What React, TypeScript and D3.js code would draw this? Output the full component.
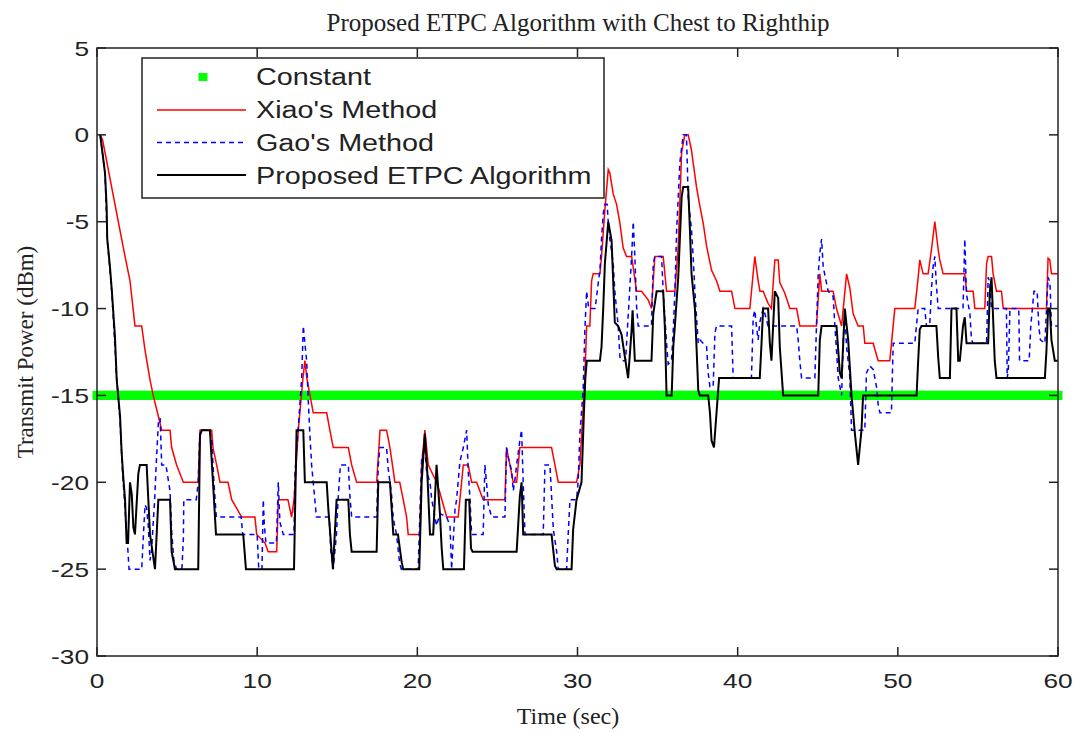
import React from 'react'
import * as d3 from 'd3'

// values, [time (sec), power (dBm)]
const constantLevel = -15
const constantTimes = d3.range(0, 60.001, 0.1)

const xiaoMethod: [number, number][] = [
  [0.2, 0], [0.35, -0.3], [1.54, -6], [1.75, -7], [2.06, -8.4], [2.37, -11], [2.79, -11], [3.0, -12.4],
  [3.31, -14.1], [3.51, -15], [3.83, -16.2], [4.04, -17], [4.56, -17], [4.66, -18], [4.97, -19], [5.39, -20],
  [6.32, -20], [6.43, -17], [7.16, -17], [7.24, -18], [7.47, -19], [7.68, -20], [8.18, -20], [8.41, -21],
  [9.03, -22], [9.86, -22], [9.97, -23], [10.49, -23.5], [10.69, -24], [11.22, -24], [11.32, -21], [11.92, -21],
  [12.15, -22], [12.3, -21], [12.57, -17], [12.86, -14], [12.98, -13], [13.1, -14], [13.3, -15], [13.5, -16],
  [14.34, -16], [14.54, -17], [14.75, -18], [15.69, -18], [15.9, -19], [16.21, -20], [17.46, -20], [17.67, -17],
  [18.08, -17], [18.29, -18], [18.6, -20], [18.9, -20], [19.12, -21], [19.33, -22], [19.43, -23], [20.16, -23],
  [20.27, -19], [20.47, -17], [20.68, -19], [21.2, -20], [21.41, -20.6], [21.83, -22], [22.55, -22], [22.87, -19],
  [23.18, -19], [23.39, -20], [23.7, -20], [24.11, -21], [25.47, -21], [25.57, -18], [25.78, -19], [25.99, -20],
  [26.2, -20], [26.4, -18], [28.38, -18], [28.59, -19], [28.8, -20], [29.94, -20], [30.15, -19], [30.36, -15.6],
  [30.46, -14], [30.57, -11], [30.77, -11], [30.88, -8.4], [30.98, -8], [31.4, -8], [31.5, -7], [31.71, -4.3],
  [31.92, -2], [32.02, -2.2], [32.23, -3.4], [32.44, -4], [32.65, -5.1], [32.85, -6.5], [33.06, -7], [33.38, -7],
  [33.69, -9], [34.0, -9], [34.41, -9.5], [34.62, -10], [34.83, -7], [35.35, -7], [35.56, -9], [36.08, -9],
  [36.29, -6.4], [36.5, -1], [36.7, 0], [36.91, 0], [37.12, -0.9], [37.22, -1.6], [37.43, -3], [37.64, -4.1],
  [37.85, -5.1], [38.06, -6.4], [38.37, -7.8], [38.68, -8.4], [38.89, -9], [39.62, -9], [39.83, -10], [40.76, -10],
  [41.07, -7], [41.28, -8.4], [41.39, -9], [41.59, -9], [41.9, -9.7], [42.11, -10], [42.32, -7.2], [42.53, -7.2],
  [42.63, -8.5], [42.94, -9.1], [43.26, -10], [43.68, -10], [43.88, -11], [44.92, -11], [45.13, -8], [45.24, -9],
  [45.96, -9], [46.17, -10], [46.49, -11], [46.8, -8], [47.0, -8.8], [47.21, -10.3], [47.52, -11], [47.84, -11],
  [47.94, -12], [48.46, -12], [48.77, -13], [49.5, -13], [49.81, -10], [51.06, -10], [51.27, -8.2], [51.37, -7.2],
  [51.58, -8], [51.89, -8], [52.1, -6.6], [52.31, -5], [52.52, -6.6], [52.62, -7.2], [52.83, -8], [54.18, -8],
  [54.29, -9], [54.7, -9], [54.81, -10], [55.43, -10], [55.54, -7.4], [55.64, -7], [55.85, -7], [55.95, -8],
  [56.16, -9], [56.47, -9], [56.58, -10], [59.28, -10], [59.38, -7.1], [59.49, -7.2], [59.59, -8], [60, -8],
]

const gaoMethod: [number, number][] = [
  [0.2, 0], [0.5, -2.2], [0.64, -6], [0.92, -9], [1.23, -14], [1.44, -16.5], [1.6, -19.5], [1.75, -21.5],
  [1.9, -23.5], [2.0, -25], [2.79, -25], [2.9, -23], [3.0, -21.3], [3.1, -21.5], [3.2, -22.5], [3.31, -24.5],
  [3.4, -24], [3.6, -21], [3.7, -18.9], [3.83, -16.6], [3.94, -16.3], [4.04, -19], [4.3, -19], [4.56, -20.5],
  [4.66, -22.8], [4.8, -24.5], [4.97, -25], [5.3, -25], [5.39, -23.3], [5.42, -21], [6.2, -21], [6.32, -20],
  [6.43, -17], [7.0, -17], [7.16, -17.5], [7.3, -20], [7.45, -22], [9.0, -22], [9.1, -23], [10.0, -23],
  [10.1, -25], [10.3, -25], [10.38, -21], [10.45, -22.5], [10.55, -23.5], [11.2, -23.5], [11.32, -20], [11.42, -22.3],
  [11.63, -23], [12.3, -23], [12.36, -19.5], [12.57, -16.8], [12.78, -14], [12.88, -11], [12.98, -12], [13.09, -13],
  [13.19, -15.3], [13.3, -17.4], [13.4, -19], [13.5, -20], [13.7, -22], [14.5, -22], [14.6, -24], [14.75, -25],
  [14.95, -23], [15.05, -21], [15.2, -19], [15.69, -19], [15.79, -20.8], [15.9, -22], [17.46, -22], [17.56, -19],
  [17.67, -18], [18.08, -18], [18.18, -19.2], [18.39, -20.7], [18.5, -22.1], [18.7, -23], [18.9, -24.7], [19.0, -25],
  [20.05, -25], [20.27, -18.6], [20.47, -18], [20.58, -19.4], [20.79, -20], [20.9, -21], [21.1, -22], [21.2, -22.5],
  [21.41, -21.8], [21.83, -22], [22.04, -22.5], [22.14, -25], [22.35, -21.6], [22.45, -21], [22.66, -18.8], [22.87, -18],
  [23.08, -17], [23.18, -19.4], [23.29, -21], [23.39, -23], [24.11, -23], [24.22, -19], [24.32, -20], [24.43, -21.3],
  [24.64, -22], [25.47, -22], [25.57, -18], [25.68, -18.6], [25.88, -19.3], [25.99, -20.5], [26.1, -19.8], [26.2, -19],
  [26.4, -17.6], [26.51, -17], [26.61, -20], [26.72, -23], [27.86, -23], [27.97, -19], [28.28, -19], [28.49, -22.7],
  [28.7, -24], [28.8, -25], [29.32, -25], [29.42, -23], [29.53, -21], [29.94, -21], [30.04, -20], [30.15, -17.2],
  [30.25, -16], [30.36, -14.5], [30.46, -11.2], [30.57, -9], [30.7, -10], [31.1, -10], [31.3, -8.5], [31.4, -7.8],
  [31.5, -6], [31.61, -4.5], [31.71, -4], [31.85, -4], [31.92, -5], [32.02, -6], [32.23, -7.4], [32.33, -9],
  [32.54, -11], [32.65, -12.8], [32.75, -13], [33.0, -13], [33.16, -10.5], [33.38, -7], [33.48, -5], [33.58, -7],
  [33.69, -9.9], [33.79, -11], [34.62, -11], [34.73, -7.4], [34.83, -7], [35.25, -7], [35.35, -9], [35.56, -12],
  [35.66, -13.2], [35.87, -13], [35.98, -11.2], [36.08, -9], [36.19, -5.5], [36.29, -3.6], [36.39, -1.6], [36.6, 0],
  [36.8, 0], [36.85, -1.5], [36.91, -3.6], [37.12, -5.5], [37.22, -7], [37.33, -9], [37.43, -10.5], [37.54, -12],
  [37.64, -11.8], [38.06, -12.2], [38.16, -13.7], [38.27, -14.5], [38.47, -14.5], [38.58, -11.4], [38.68, -11], [39.62, -11],
  [39.72, -14], [40.86, -14], [40.97, -10.5], [41.07, -10.1], [41.17, -11], [41.28, -11.8], [41.38, -10.8], [41.59, -10],
  [41.7, -10.3], [41.9, -11], [43.68, -11], [43.78, -11.8], [43.88, -13], [43.99, -14], [44.82, -14], [44.92, -11],
  [45.03, -8], [45.13, -6.8], [45.24, -6], [45.34, -7.6], [45.65, -9], [45.96, -9.3], [46.07, -11], [46.17, -12.4],
  [46.28, -14], [46.49, -15], [46.59, -11.8], [46.69, -10.3], [46.8, -12.2], [47.0, -13.9], [47.11, -17], [47.94, -17],
  [48.04, -13.7], [48.25, -13.3], [48.46, -13.5], [48.67, -14.5], [48.77, -15.5], [48.88, -16], [49.6, -16], [49.71, -12],
  [51.06, -12], [51.17, -10.9], [51.27, -10], [51.68, -10], [51.79, -11], [51.99, -11], [52.1, -8.9], [52.2, -7.6],
  [52.31, -7], [52.41, -8.7], [52.52, -10], [54.07, -10], [54.18, -6], [54.29, -9.2], [54.5, -10.3], [54.6, -11.8],
  [54.7, -12], [55.54, -12], [55.64, -8.2], [55.74, -8.5], [55.85, -10], [56.78, -10], [56.83, -14], [56.9, -13.5],
  [57.0, -10], [57.55, -10], [57.6, -13], [58.2, -13], [58.3, -11], [58.5, -9], [58.7, -9], [58.8, -11],
  [58.9, -11.8], [59.18, -12], [59.38, -8.2], [59.5, -8.5], [59.59, -11], [60, -11],
]

const proposedEtpc: [number, number][] = [
  [0.2, 0], [0.5, -2.2], [0.6, -4.1], [0.64, -6], [0.81, -7.6], [0.92, -8.9], [1.12, -11.6], [1.23, -14.1],
  [1.44, -16.2], [1.54, -18.3], [1.64, -19.7], [1.75, -21], [1.85, -23.5], [1.94, -23.5], [2.06, -20], [2.17, -20.7],
  [2.27, -22.6], [2.37, -23], [2.58, -19.5], [2.68, -19], [3.1, -19], [3.31, -23], [3.51, -24.3], [3.62, -25],
  [3.83, -21], [4.56, -21], [4.66, -24], [4.87, -25], [6.32, -25], [6.43, -17.3], [6.54, -17], [7.05, -17],
  [7.26, -20.3], [7.43, -23], [9.13, -23], [9.3, -25], [12.3, -25], [12.46, -17], [12.88, -17], [12.98, -20],
  [14.34, -20], [14.44, -21.5], [14.73, -25], [14.96, -21], [15.69, -21], [15.79, -23], [15.9, -24], [17.46, -24],
  [17.56, -20], [18.29, -20], [18.39, -21.4], [18.5, -23], [18.79, -23], [19.02, -24.6], [19.12, -25], [20.12, -25],
  [20.27, -20], [20.47, -17.2], [20.62, -19.4], [20.79, -23], [20.99, -23], [21.2, -19], [21.41, -21.8], [21.52, -23.8],
  [21.62, -25], [22.91, -25], [23.03, -21], [23.24, -21], [23.35, -23.8], [23.45, -24], [26.2, -24], [26.3, -22.4],
  [26.4, -20.8], [26.51, -20], [26.61, -23], [28.38, -23], [28.59, -24.8], [28.7, -25], [29.63, -25], [29.73, -22.7],
  [29.94, -21], [30.25, -20], [30.4, -16], [30.49, -14], [30.58, -13], [31.4, -13], [31.5, -12.2], [31.61, -9.9],
  [31.71, -7.4], [31.92, -5], [32.13, -6.1], [32.33, -10.8], [32.54, -11], [32.75, -11.5], [32.96, -12.8], [33.16, -14],
  [33.38, -11.2], [33.44, -10.1], [33.58, -13], [34.62, -13], [34.73, -10.3], [34.94, -9], [35.35, -9], [35.46, -11.2],
  [35.56, -15], [35.88, -15], [35.98, -12.2], [36.08, -11], [36.29, -8.2], [36.5, -3.6], [36.6, -3], [36.91, -3],
  [37.02, -5.5], [37.12, -8], [37.33, -10], [37.43, -12.2], [37.54, -14.7], [37.64, -15], [38.16, -15], [38.27, -16],
  [38.37, -17.6], [38.52, -18], [38.68, -16], [38.84, -14], [41.38, -14], [41.49, -12], [41.59, -10], [41.9, -10],
  [42.01, -12], [42.11, -13], [42.32, -9], [42.53, -9.4], [42.63, -12.2], [42.84, -15], [45.03, -15], [45.13, -11.8],
  [45.24, -11], [46.17, -11], [46.38, -13.7], [46.49, -14], [46.69, -10], [46.9, -11.8], [47.11, -15], [47.32, -17.2],
  [47.52, -19], [47.73, -17], [47.83, -15], [51.17, -15], [51.27, -13], [51.37, -11.2], [51.48, -11], [52.41, -11],
  [52.52, -12.8], [52.62, -14], [53.25, -14], [53.35, -10], [53.66, -10], [53.77, -13], [53.87, -13], [54.07, -11],
  [54.18, -10.5], [54.29, -12], [55.64, -12], [55.74, -9.1], [55.85, -8.2], [56.05, -13], [56.16, -14], [59.18, -14],
  [59.28, -12.4], [59.38, -10], [59.49, -10], [59.59, -11.8], [59.8, -13], [60, -13],
]

const xTicks = [0, 10, 20, 30, 40, 50, 60]
const yTicks = [5, 0, -5, -10, -15, -20, -25, -30]
const legendLabels = ['Constant', "Xiao's Method", "Gao's Method", 'Proposed ETPC Algorithm']

const W = 1074
const H = 733
const left = 97
const right = 1058
const top = 48
const bottom = 656
const tickLen = 9
const sans = "Arial, 'Liberation Sans', sans-serif"
const serif = "'Times New Roman', 'Liberation Serif', serif"

export default function App() {
  const x = d3.scaleLinear().domain([0, 60]).range([left, right])
  const y = d3.scaleLinear().domain([-30, 5]).range([bottom, top])

  const line = d3.line<[number, number]>()
    .x(d => x(d[0]))
    .y(d => y(d[1]))

  const sq = 9

  return (
    <svg width={W} height={H} style={{ position: 'absolute', left: 0, top: 0, background: '#fff' }}>
      <rect x={0} y={0} width={W} height={H} fill="#fff" />

      {/* title */}
      <text x={578} y={31} textAnchor="middle" fontFamily={serif} fontSize={25} fill="#222">
        Proposed ETPC Algorithm with Chest to Righthip
      </text>

      {/* constant markers */}
      <g fill="#00ff00">
        {constantTimes.map((t, i) => (
          <rect key={i} x={x(t) - sq / 2} y={y(constantLevel) - sq / 2} width={sq} height={sq} />
        ))}
      </g>

      <path d={line(xiaoMethod) || ''} fill="none" stroke="#ff0000" strokeWidth={1.5} />
      <path d={line(gaoMethod) || ''} fill="none" stroke="#0000ff" strokeWidth={1.5} strokeDasharray="5,4" />
      <path d={line(proposedEtpc) || ''} fill="none" stroke="#000" strokeWidth={2} />

      {/* axes box with inward ticks */}
      <rect x={left} y={top} width={right - left} height={bottom - top} fill="none" stroke="#222" strokeWidth={1.5} />
      <g stroke="#222" strokeWidth={1.5}>
        {xTicks.map(t => (
          <g key={'xt' + t}>
            <line x1={x(t)} x2={x(t)} y1={bottom} y2={bottom - tickLen} />
            <line x1={x(t)} x2={x(t)} y1={top} y2={top + tickLen} />
          </g>
        ))}
        {yTicks.map(t => (
          <g key={'yt' + t}>
            <line x1={left} x2={left + tickLen} y1={y(t)} y2={y(t)} />
            <line x1={right} x2={right - tickLen} y1={y(t)} y2={y(t)} />
          </g>
        ))}
      </g>

      {/* tick labels */}
      <g fontFamily={sans} fontSize={21} fill="#222">
        {xTicks.map(t => (
          <text key={'xl' + t} transform={`translate(${x(t)},${688}) scale(1.25,1)`} textAnchor="middle">{t}</text>
        ))}
        {yTicks.map(t => (
          <text key={'yl' + t} transform={`translate(${89},${y(t) + 7.5}) scale(1.25,1)`} textAnchor="end">{t}</text>
        ))}
      </g>

      {/* axis labels */}
      <text x={568} y={724} textAnchor="middle" fontFamily={serif} fontSize={24} fill="#222">Time (sec)</text>
      <text transform={`translate(33,${(top + bottom) / 2}) rotate(-90)`} textAnchor="middle" fontFamily={serif} fontSize={23} fill="#222">
        Transmit Power (dBm)
      </text>

      {/* legend */}
      <g>
        <rect x={142} y={58} width={462} height={140} fill="#fff" stroke="#222" strokeWidth={1.5} />
        <rect x={203 - 4.5} y={77 - 4} width={9} height={8} fill="#00ff00" />
        <line x1={157} x2={246} y1={110} y2={110} stroke="#ff0000" strokeWidth={1.5} />
        <line x1={157} x2={246} y1={142.5} y2={142.5} stroke="#0000ff" strokeWidth={1.5} strokeDasharray="5,4" />
        <line x1={157} x2={246} y1={175} y2={175} stroke="#000" strokeWidth={2} />
        {legendLabels.map((lab, i) => (
          <text key={lab} transform={`translate(256,${85 + i * 33}) scale(1.25,1)`} fontFamily={sans} fontSize={23} fill="#222">
            {lab}
          </text>
        ))}
      </g>
    </svg>
  )
}
